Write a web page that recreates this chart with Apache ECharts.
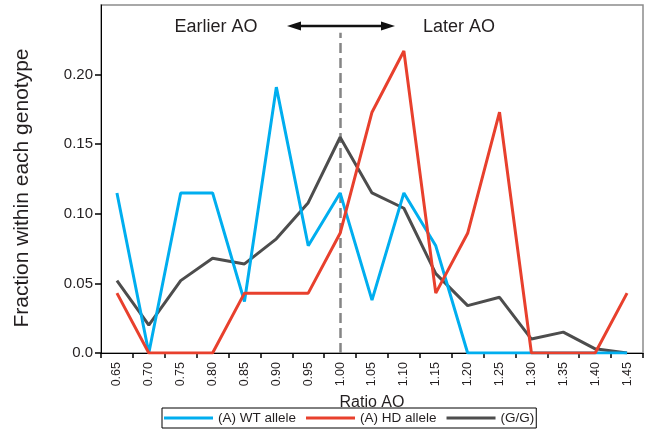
<!DOCTYPE html>
<html>
<head>
<meta charset="utf-8">
<script src="https://cdn.jsdelivr.net/npm/echarts@6/dist/echarts.min.js"></script>
<style>html,body{margin:0;padding:0;background:#fff}#c{width:650px;height:434px}</style>
</head>
<body>
<div id="c"></div>
<script>
var categories = ['0.65','0.70','0.75','0.80','0.85','0.90','0.95','1.00','1.05','1.10','1.15','1.20','1.25','1.30','1.35','1.40','1.45'];
var wtAllele = [0.115,0,0.115,0.115,0.037,0.191,0.077,0.115,0.038,0.115,0.077,0,0,0,0,0,0];
var hdAllele = [0.043,0,0,0,0.043,0.043,0.043,0.086,0.173,0.217,0.043,0.086,0.173,0,0,0,0.043];
var ggGenotype = [0.052,0.020,0.052,0.068,0.064,0.082,0.108,0.155,0.115,0.104,0.057,0.034,0.040,0.010,0.015,0.003,0];
var yTicks = [0,0.05,0.10,0.15,0.20];
var yTickLabels = ['0.0','0.05','0.10','0.15','0.20'];
var seriesNames = ['(A) WT allele','(A) HD allele','(G/G)'];
var referenceRatio = '1.00';

var chart = echarts.init(document.getElementById('c'), null, {renderer:'canvas'});
var txt = '#231f20';
chart.setOption({
  animation:false,
  backgroundColor:'#fff',
  grid:{left:101,right:7,top:5,bottom:81,show:true,borderColor:'#8c8c8c',borderWidth:1.5,containLabel:false,outerBoundsMode:'none'},
  legend:{
    data:seriesNames, left:162, top:408, orient:'horizontal',
    padding:[3,2,3,2], itemGap:10, itemWidth:49, itemHeight:3, icon:'rect',
    borderColor:'#000', borderWidth:1,
    textStyle:{fontFamily:'Liberation Sans',fontSize:13.5,color:txt}
  },
  xAxis:{
    type:'category', data:categories, boundaryGap:true,
    name:'Ratio AO', nameLocation:'middle', nameGap:38,
    nameTextStyle:{fontFamily:'Liberation Sans',fontSize:16,color:txt},
    axisLine:{lineStyle:{color:'#000',width:1}},
    axisTick:{show:true,length:5,lineStyle:{color:'#000',width:1.5}},
    axisLabel:{rotate:90,margin:9,fontFamily:'Liberation Sans',fontSize:12.5,color:txt,interval:0}
  },
  yAxis:{
    type:'value', min:0, max:0.25, interval:0.05,
    axisLine:{show:true,lineStyle:{color:'#000',width:1}},
    axisTick:{show:true,length:6,lineStyle:{color:'#000',width:1.5},customValues:yTicks},
    axisLabel:{margin:8,fontFamily:'Liberation Sans',fontSize:15,color:txt,customValues:yTicks,
      formatter:function(v){var i=yTicks.findIndex(function(t){return Math.abs(t-v)<1e-6;});return i>=0?yTickLabels[i]:'';}},
    splitLine:{show:false}
  },
  series:[
    {name:'ref',type:'line',data:[],symbol:'none',z:1,silent:true,
      markLine:{silent:true,symbol:'none',z:1,label:{show:false},
        emphasis:{disabled:true},
        lineStyle:{color:'#858585',width:2.5,type:[10,5]},
        data:[[{coord:[referenceRatio,0]},{coord:[referenceRatio,0.23]}]]}},
    {name:seriesNames[2],type:'line',data:ggGenotype,symbol:'none',z:3,
      lineStyle:{color:'#4d4d4d',width:3},itemStyle:{color:'#4d4d4d'}},
    {name:seriesNames[0],type:'line',data:wtAllele,symbol:'none',z:4,
      lineStyle:{color:'#00aeef',width:3},itemStyle:{color:'#00aeef'}},
    {name:seriesNames[1],type:'line',data:hdAllele,symbol:'none',z:5,
      lineStyle:{color:'#e8402d',width:3},itemStyle:{color:'#e8402d'}}
  ],
  graphic:[
    {type:'text',x:22,y:188,rotation:Math.PI/2,style:{text:'Fraction within each genotype',fontFamily:'Liberation Sans',fontSize:21,fill:txt,align:'center',verticalAlign:'middle'}},
    {type:'text',x:216,y:27,style:{text:'Earlier AO',fontFamily:'Liberation Sans',fontSize:18,fill:txt,align:'center',verticalAlign:'middle'}},
    {type:'text',x:459,y:27,style:{text:'Later AO',fontFamily:'Liberation Sans',fontSize:18,fill:txt,align:'center',verticalAlign:'middle'}},
    {type:'line',shape:{x1:298,y1:26,x2:384,y2:26},style:{stroke:'#111',lineWidth:2.5}},
    {type:'polygon',shape:{points:[[287,26],[301,21.5],[301,30.5]]},style:{fill:'#111'}},
    {type:'polygon',shape:{points:[[395,26],[381,21.5],[381,30.5]]},style:{fill:'#111'}}
  ]
});
</script>
</body>
</html>
